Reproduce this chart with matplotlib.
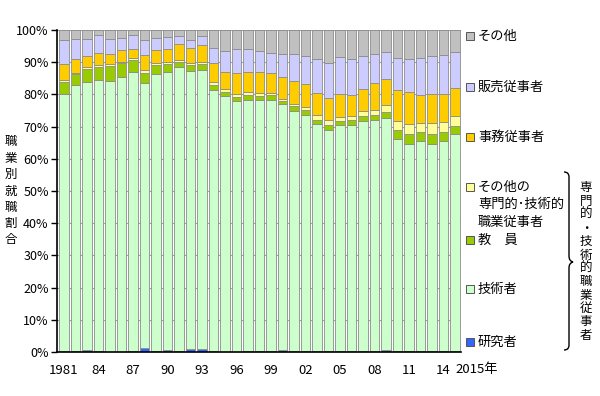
import numpy as np
import matplotlib
matplotlib.use("Agg")
import matplotlib.pyplot as plt
from matplotlib.path import Path
from matplotlib.patches import PathPatch, Rectangle

plt.rcParams['font.family'] = ['Noto Sans CJK JP', 'DejaVu Sans']

years = list(range(1981, 2016))
tick_labels = ['1981', '84', '87', '90', '93', '96', '99', '02', '05', '08', '11', '14']

# shares (%) per year, bottom to top
researcher = [0.3, 0.3, 0.7, 0.3, 0.1, 0.1, 0.2, 1.2, 0.4, 0.5, 0.3, 0.9, 0.8, 0.4, 0.1,
              0.1, 0.2, 0.4, 0.4, 0.5, 0.3, 0.3, 0.3, 0.4, 0.3, 0.3, 0.3, 0.3, 0.5, 0.3,
              0.3, 0.3, 0.3, 0.3, 0.3]
engineer = [79.7, 82.5, 83.2, 84.1, 84.1, 85.4, 86.9, 82.2, 85.8, 86.5, 88.1, 86.5, 86.8, 81.0, 79.5,
            77.7, 78.2, 78.0, 78.0, 76.4, 74.6, 73.2, 70.5, 68.5, 70.1, 70.1, 71.3, 71.8, 72.3, 65.8,
            64.3, 65.2, 64.2, 65.3, 67.4]
teacher = [4.0, 3.4, 3.9, 4.0, 4.6, 4.2, 3.6, 3.4, 2.8, 2.5, 1.7, 1.8, 1.8, 1.6, 1.2,
           1.4, 1.5, 1.2, 1.3, 1.0, 1.4, 1.5, 1.4, 1.5, 1.2, 1.6, 1.6, 1.4, 1.7, 2.8,
           3.1, 2.9, 3.2, 2.6, 2.5]
other_prof = [0.4, 0.6, 0.8, 0.8, 0.7, 0.5, 0.6, 0.8, 0.7, 0.7, 0.7, 0.5, 0.7, 0.8, 0.8,
              0.9, 0.7, 0.8, 0.7, 0.8, 0.8, 1.1, 1.3, 1.6, 1.4, 1.4, 1.7, 1.8, 2.3, 2.9,
              3.0, 2.8, 3.3, 3.3, 3.2]
clerical = [5.1, 4.2, 3.4, 3.6, 3.1, 3.7, 2.8, 4.7, 4.2, 4.0, 5.0, 4.6, 5.2, 6.1, 5.5,
            6.5, 6.3, 6.7, 6.2, 6.7, 7.2, 7.2, 6.9, 6.9, 7.2, 6.5, 6.7, 8.2, 8.0, 9.5,
            10.1, 8.6, 9.0, 8.6, 8.6]
sales = [7.3, 6.3, 5.3, 5.6, 4.7, 3.7, 4.5, 4.5, 3.7, 3.7, 2.3, 2.6, 2.8, 4.4, 6.5,
         7.4, 7.1, 6.5, 6.4, 7.1, 8.1, 8.7, 10.5, 11.0, 11.3, 11.1, 10.3, 9.1, 8.3, 10.1,
         10.1, 11.5, 11.8, 12.1, 11.2]
other = [3.2, 2.7, 2.7, 1.6, 2.7, 2.4, 1.4, 3.2, 2.4, 2.1, 1.9, 3.1, 1.9, 5.7, 6.4,
         6.0, 6.0, 6.4, 7.0, 7.5, 7.6, 8.0, 9.1, 10.1, 8.5, 9.0, 8.1, 7.4, 6.9, 8.6,
         9.1, 8.7, 8.2, 7.8, 6.8]

series = [researcher, engineer, teacher, other_prof, clerical, sales, other]
colors = ['#3366ff', '#ccffcc', '#99cc00', '#ffff99', '#ffcc00', '#ccccff', '#c0c0c0']

W, H = 600, 396
fig = plt.figure(figsize=(6, 3.96), dpi=100)
ax = fig.add_axes([57 / W, 1 - 352 / H, (461 - 57) / W, (352 - 30) / H])

x = np.arange(len(years))
bottom = np.zeros(len(years))
for vals, c in zip(series, colors):
    ax.bar(x, vals, bottom=bottom, width=0.82, color=c, edgecolor='#8c8c8c',
           linewidth=0.6, zorder=2)
    bottom += np.array(vals)

ax.set_xlim(-0.6, 34.52)
ax.set_ylim(0, 100)
ax.set_yticks(np.arange(0, 101, 10))
ax.set_yticklabels([f'{v}%' for v in range(0, 101, 10)], fontsize=9)
ax.set_xticks(x[::3])
ax.set_xticklabels(tick_labels, fontsize=9.5)
ax.tick_params(axis='x', length=0, pad=9)
ax.tick_params(axis='y', length=4, width=1, direction='out', pad=2)
ax.yaxis.grid(True, color='#a0a0a0', linewidth=0.8, zorder=0)
ax.set_axisbelow(True)
for s in ['top', 'right']:
    ax.spines[s].set_visible(False)
ax.spines['left'].set_linewidth(1.2)
ax.spines['bottom'].set_linewidth(1.2)


def px(xp, yp):
    return xp / W, 1 - yp / H


fig.text(*px(455, 370), '2015年', ha='left', va='center', fontsize=9.5)

# y label, stacked characters
for i, ch in enumerate('職業別就職割合'):
    fig.text(*px(11, 142 + i * 16.3), ch, ha='center', va='center', fontsize=9)

# legend: (lines, colour index, y of first line)
legend = [
    (['その他'], 6, 36),
    (['販売従事者'], 5, 87),
    (['事務従事者'], 4, 137),
    (['その他の', '専門的･技術的', '職業従事者'], 3, 187),
    (['教　員'], 2, 240),
    (['技術者'], 1, 289),
    (['研究者'], 0, 342),
]
for lines, idx, yp in legend:
    fx, fy = px(466, yp + 4)
    fig.patches.append(Rectangle((fx, fy), 8 / W, 8 / H, transform=fig.transFigure,
                                 facecolor=colors[idx], edgecolor='#555555',
                                 linewidth=0.7, figure=fig))
    for j, line in enumerate(lines):
        fig.text(*px(478, yp + j * 17.5), line, ha='left', va='center', fontsize=9.5)

# brace
top, bot, mid = 172, 350, 262
xb = 568
verts = [(xb - 4, top), (xb + 1, top), (xb + 1, top + 5), (xb + 1, mid - 6),
         (xb + 1, mid - 1), (xb + 5, mid), (xb + 1, mid + 1), (xb + 1, mid + 6),
         (xb + 1, bot - 5), (xb + 1, bot), (xb - 4, bot)]
codes = [Path.MOVETO, Path.CURVE3, Path.CURVE3, Path.LINETO,
         Path.CURVE3, Path.CURVE3, Path.CURVE3, Path.CURVE3,
         Path.LINETO, Path.CURVE3, Path.CURVE3]
verts = [px(a, b) for a, b in verts]
fig.patches.append(PathPatch(Path(verts, codes), transform=fig.transFigure,
                             facecolor='none', edgecolor='black', linewidth=1.0,
                             figure=fig))

for i, ch in enumerate('専門的・技術的職業従事者'):
    fig.text(*px(586, 188 + i * 13.4), ch, ha='center', va='center', fontsize=9)

fig.savefig('out.png', dpi=100)
